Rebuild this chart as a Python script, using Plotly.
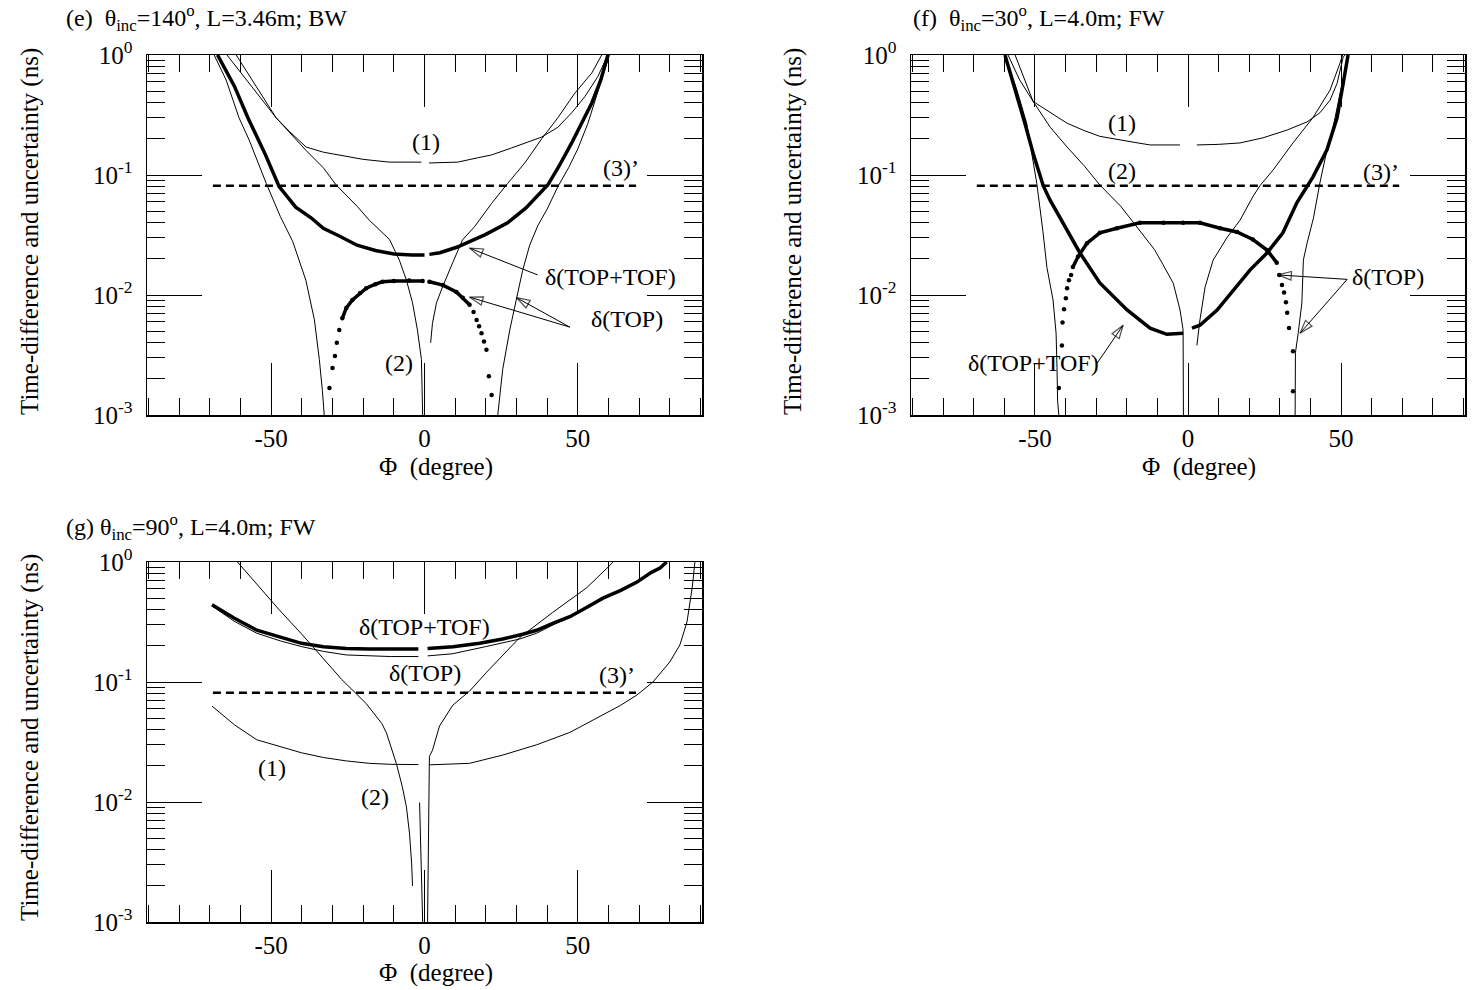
import numpy as np
import plotly.graph_objects as go

FONT = "Liberation Serif, Times New Roman, serif"

# ---------------- axis ticks ----------------
x_ticks = [-50, 0, 50]
x_ticklabels = ["-50", "0", "50"]
y_ticks = [0.001, 0.01, 0.1, 1.0]
y_ticklabels = ["10<sup>-3</sup>", "10<sup>-2</sup>", "10<sup>-1</sup>", "10<sup>0</sup>"]
y_minor = [m * 10.0 ** k for k in (-3, -2, -1) for m in range(2, 10)]

# ---------------- panel (e) ----------------
e_c1_x = [-64.4, -57.2, -52.0, -48.4, -44.0, -38.6, -33.0, -27.8, -20.0, -11.4, -1.0, None,
          1.5, 10.8, 17.3, 21.9, 28.4, 32.7, 38.2, 43.5, 48.0, 52.3, 56.5, 59.8]
e_c1_y = [1.0, 0.58, 0.40, 0.30, 0.23, 0.171, 0.155, 0.147, 0.135, 0.128, 0.128, None,
          0.126, 0.128, 0.139, 0.147, 0.168, 0.185, 0.207, 0.25, 0.33, 0.45, 0.66, 1.0]

e_c2l_x = [-61.4, -55.0, -48.4, -38.6, -33.0, -28.8, -22.0, -18.0, -11.4, -8.2, -5.9, -3.9, -2.3, -1.0, -0.6]
e_c2l_y = [1.0, 0.55, 0.30, 0.16, 0.115, 0.0825, 0.055, 0.042, 0.029, 0.0195, 0.0133, 0.0086, 0.0051, 0.0029, 0.001]
e_c2r_x = [2.0, 2.6, 3.9, 5.9, 9.2, 12.4, 16.3, 21.9, 27.1, 32.7, 38.2, 43.5, 49.0, 54.6, 57.8]
e_c2r_y = [0.004, 0.0058, 0.0086, 0.0117, 0.0186, 0.0288, 0.037, 0.058, 0.085, 0.126, 0.20, 0.30, 0.48, 0.71, 1.0]

e_topl_x = [-68.6, -64.7, -60.5, -57.2, -51.6, -47.0, -43.0, -38.7, -35.9, -34.3, -33.3, -32.7]
e_topl_y = [1.0, 0.62, 0.30, 0.196, 0.085, 0.045, 0.028, 0.0133, 0.0062, 0.0029, 0.0016, 0.001]
e_topr_x = [23.9, 24.5, 25.5, 27.8, 30.0, 32.0, 34.3, 37.0, 40.0, 43.5, 47.0, 50.0, 53.3, 56.5, 59.5, 60.3]
e_topr_y = [0.001, 0.0014, 0.0024, 0.0051, 0.0096, 0.016, 0.026, 0.038, 0.052, 0.08, 0.115, 0.165, 0.27, 0.5, 0.9, 1.0]

e_tt_x = [-67.5, -62.0, -57.6, -52.0, -47.4, -42.0, -37.0, -33.0, -27.8, -22.0, -16.0, -10.0, -4.0, 0.0, None,
          1.6, 5.0, 10.5, 15.0, 20.0, 27.1, 33.0, 40.2, 44.0, 48.0, 51.5, 54.6, 57.5, 59.8]
e_tt_y = [1.0, 0.55, 0.30, 0.15, 0.08, 0.054, 0.044, 0.036, 0.031, 0.026, 0.0235, 0.022, 0.0215, 0.0215, None,
          0.0218, 0.0225, 0.025, 0.028, 0.032, 0.040, 0.053, 0.0825, 0.12, 0.185, 0.28, 0.40, 0.62, 1.0]

e_hump_x = [-31.0, -30.0, -29.2, -28.6, -27.8, -26.8, -25.5, -23.5, -21.0, -19.0, -16.0, -13.7, -10.0, -5.0, -0.6, None,
            1.6, 6.0, 10.4, 12.5, 14.7, 16.0, 17.0, 17.8, 18.6, 19.4, 20.2, 21.0, 21.9]
e_hump_y = [0.00168, 0.00246, 0.0031, 0.004, 0.0051, 0.0064, 0.0078, 0.0091, 0.0104, 0.0114, 0.0123, 0.0129, 0.0131, 0.0132, 0.0131, None,
            0.0129, 0.0121, 0.0106, 0.0095, 0.0083, 0.0072, 0.0062, 0.0055, 0.0048, 0.0041, 0.0035, 0.0021, 0.00147]
e_hump_core = (5, 21)

# annotation arrows (tail x, tail y, head x, head y)
e_arrows = [(36.9, 0.0147, 14.7, 0.0246), (47.4, 0.0054, 14.7, 0.0096), (47.4, 0.0054, 30.0, 0.0095)]

# ---------------- panel (f) ----------------
f_c1_x = [-58.8, -55.0, -50.6, -45.0, -39.5, -34.0, -28.8, -18.0, -12.4, -2.6, None,
          2.9, 10.0, 17.0, 24.5, 32.4, 38.9, 43.1, 46.4, 48.7, 50.7, 51.3]
f_c1_y = [1.0, 0.62, 0.41, 0.33, 0.27, 0.235, 0.21, 0.188, 0.178, 0.178, None,
          0.178, 0.18, 0.185, 0.204, 0.237, 0.277, 0.33, 0.42, 0.58, 0.96, 1.0]

f_c2l_x = [-56.5, -50.6, -45.0, -39.5, -34.0, -28.8, -22.0, -15.6, -11.0, -8.2, -4.8, -2.6, -1.6, -1.5]
f_c2l_y = [1.0, 0.41, 0.25, 0.171, 0.12, 0.0825, 0.055, 0.034, 0.024, 0.018, 0.0125, 0.0075, 0.0051, 0.001]
f_c2r_x = [2.9, 3.9, 5.6, 8.2, 12.7, 17.0, 21.2, 23.5, 27.8, 34.3, 40.8, 46.4, 49.7, 50.5]
f_c2r_y = [0.0038, 0.0062, 0.0117, 0.0195, 0.030, 0.042, 0.066, 0.0815, 0.11, 0.185, 0.30, 0.51, 0.86, 1.0]

f_topl_x = [-59.8, -56.0, -52.7, -50.5, -49.4, -47.4, -46.1, -44.1, -43.1, -42.8, -42.6, -42.2]
f_topl_y = [1.0, 0.52, 0.27, 0.13, 0.085, 0.034, 0.017, 0.0091, 0.0048, 0.0025, 0.0013, 0.001]
f_topr_x = [35.0, 35.1, 36.0, 37.2, 37.7, 38.9, 41.0, 43.1, 45.4, 47.4, 49.7, 51.9, 52.5]
f_topr_y = [0.001, 0.0033, 0.0048, 0.0086, 0.0196, 0.027, 0.044, 0.086, 0.162, 0.25, 0.48, 0.86, 1.0]

f_tt_x = [-59.8, -56.5, -53.3, -50.6, -47.3, -45.1, -39.5, -35.3, -28.8, -19.9, -12.4, -6.9, -1.6, None,
          1.3, 3.9, 9.5, 14.7, 20.3, 25.8, 31.0, 35.6, 40.8, 45.4, 48.7, 50.7, 52.0, 52.3]
f_tt_y = [1.0, 0.52, 0.27, 0.152, 0.0815, 0.062, 0.035, 0.0224, 0.0126, 0.0075, 0.0053, 0.0047, 0.0048, None,
          0.0053, 0.0056, 0.0075, 0.011, 0.0162, 0.0224, 0.033, 0.059, 0.096, 0.162, 0.30, 0.58, 0.9, 1.0]

f_hump_x = [-42.2, -41.2, -41.0, -40.5, -39.9, -39.5, -38.9, -38.2, -37.6, -35.9, -33.0, -28.8, -23.2, -15.7, -8.0, -1.6,
            3.9, 10.5, 16.0, 21.2, 25.8, 29.0, 29.8, 30.7, 31.4, 32.0, 32.4, 33.0, 34.3, 34.3]
f_hump_y = [0.00168, 0.0038, 0.0059, 0.0076, 0.0094, 0.0114, 0.0133, 0.0147, 0.0171, 0.0209, 0.027, 0.033, 0.036, 0.040, 0.040, 0.040,
            0.040, 0.036, 0.0335, 0.029, 0.0237, 0.0186, 0.0147, 0.0121, 0.0105, 0.0087, 0.0071, 0.0053, 0.0034, 0.00158]
f_hump_core = (8, 22)

f_arrows = [(52.0, 0.0135, 29.4, 0.0147), (52.0, 0.0135, 36.6, 0.0048), (-29.7, 0.0027, -21.2, 0.0056)]

# ---------------- panel (g) ----------------
g_tt_x = [-69.3, -62.0, -54.7, -47.0, -40.1, -33.0, -25.5, -18.0, -11.0, -2.0, None,
          1.0, 9.3, 18.0, 25.5, 32.0, 36.6, 42.0, 47.4, 53.0, 58.2, 64.0, 69.3, 74.0, 76.8, 79.0]
g_tt_y = [0.44, 0.34, 0.27, 0.235, 0.21, 0.197, 0.19, 0.188, 0.188, 0.188, None,
          0.19, 0.197, 0.21, 0.228, 0.25, 0.27, 0.31, 0.35, 0.42, 0.50, 0.58, 0.68, 0.82, 0.89, 1.0]

g_top_x = [-69.3, -62.0, -54.7, -47.0, -40.0, -33.0, -25.5, -18.0, -11.0, -2.0, None,
           1.0, 9.2, 20.3, 31.0, 36.6, 42.0, 47.4, 53.0, 58.2, 64.0, 69.3, 74.0, 76.8, 79.0]
g_top_y = [0.43, 0.32, 0.255, 0.22, 0.197, 0.18, 0.168, 0.165, 0.163, 0.163, None,
           0.165, 0.172, 0.198, 0.228, 0.255, 0.30, 0.345, 0.415, 0.495, 0.575, 0.675, 0.81, 0.88, 1.0]

g_c1_x = [-69.3, -62.0, -54.7, -47.0, -40.1, -33.0, -25.5, -18.0, -11.0, -2.0, None,
          1.6, 14.7, 25.5, 36.6, 47.4, 58.2, 64.0, 69.3, 74.5, 80.0, 83.3, 85.6, 87.3, 88.2]
g_c1_y = [0.063, 0.044, 0.033, 0.029, 0.0257, 0.0235, 0.022, 0.021, 0.0206, 0.0205, None,
          0.0204, 0.021, 0.0246, 0.030, 0.038, 0.053, 0.064, 0.078, 0.1, 0.147, 0.204, 0.316, 0.61, 1.0]

g_c2l_x = [-61.0, -54.0, -47.4, -40.0, -32.8, -27.0, -22.6, -19.0, -13.9, -12.4, -9.2, -7.2, -5.9, -4.9, -4.2, -3.9]
g_c2l_y = [1.0, 0.62, 0.40, 0.25, 0.153, 0.105, 0.0815, 0.066, 0.045, 0.0376, 0.021, 0.0133, 0.0091, 0.0055, 0.0031, 0.0020]
g_c2m_x = [-1.6, -0.6]
g_c2m_y = [0.0099, 0.001]
g_c2r_x = [1.0, 1.6, 2.6, 4.9, 9.2, 14.7, 20.3, 31.0, 41.8, 52.9, 60.5, 61.5]
g_c2r_y = [0.001, 0.024, 0.027, 0.043, 0.064, 0.084, 0.121, 0.234, 0.38, 0.61, 0.94, 1.0]

# dashed line (3)'
dash_x = [-69.0, 69.0]
dash_y = [0.0815, 0.0815]

fig = go.Figure()


def line(x, y, ax, width=1.0, dash=None):
    fig.add_trace(go.Scatter(x=x, y=y, xaxis="x" + ax, yaxis="y" + ax, mode="lines",
                             line=dict(color="black", width=width, dash=dash),
                             showlegend=False, hoverinfo="skip", connectgaps=False))


def dots(x, y, ax, size=4.5):
    fig.add_trace(go.Scatter(x=x, y=y, xaxis="x" + ax, yaxis="y" + ax, mode="markers",
                             marker=dict(color="black", size=size),
                             showlegend=False, hoverinfo="skip"))


def arrows(lst, ax):
    for (x0, y0, x1, y1) in lst:
        fig.add_trace(go.Scatter(x=[x0, x1], y=[y0, y1], xaxis="x" + ax, yaxis="y" + ax,
                                 mode="lines+markers",
                                 line=dict(color="black", width=1),
                                 marker=dict(symbol="arrow-open", size=[0, 14], angleref="previous",
                                             color="black", line=dict(color="black", width=1.2)),
                                 showlegend=False, hoverinfo="skip"))


# (e)
line(e_c1_x, e_c1_y, "")
line(e_c2l_x, e_c2l_y, "")
line(e_c2r_x, e_c2r_y, "")
line(e_topl_x, e_topl_y, "")
line(e_topr_x, e_topr_y, "")
line(e_tt_x, e_tt_y, "", width=3.5)
line(dash_x, dash_y, "", width=2.5, dash="8px,5px")
dots(e_hump_x, e_hump_y, "")
line(e_hump_x[e_hump_core[0]:e_hump_core[1]], e_hump_y[e_hump_core[0]:e_hump_core[1]], "", width=3.5)
arrows(e_arrows, "")

# (f)
line(f_c1_x, f_c1_y, "2")
line(f_c2l_x, f_c2l_y, "2")
line(f_c2r_x, f_c2r_y, "2")
line(f_topl_x, f_topl_y, "2")
line(f_topr_x, f_topr_y, "2")
line(f_tt_x, f_tt_y, "2", width=3.5)
line(dash_x, dash_y, "2", width=2.5, dash="8px,5px")
dots(f_hump_x, f_hump_y, "2")
line(f_hump_x[f_hump_core[0]:f_hump_core[1]], f_hump_y[f_hump_core[0]:f_hump_core[1]], "2", width=3.5)
arrows(f_arrows, "2")

# (g)
line(g_tt_x, g_tt_y, "3", width=3.5)
line(g_top_x, g_top_y, "3")
line(g_c1_x, g_c1_y, "3")
line(g_c2l_x, g_c2l_y, "3")
line(g_c2m_x, g_c2m_y, "3")
line(g_c2r_x, g_c2r_y, "3")
line(dash_x, dash_y, "3", width=2.5, dash="8px,5px")

W, H = 1474, 990
TICKFONT = dict(family=FONT, size=25, color="black")


def xax(domain, anchor):
    return dict(domain=domain, anchor=anchor, range=[-90.5, 90.5],
                tickmode="array", tickvals=x_ticks, ticktext=x_ticklabels,
                ticks="inside", ticklen=52, tickwidth=1, tickcolor="black",
                minor=dict(tickmode="linear", tick0=0, dtick=10, ticks="inside",
                           ticklen=17, tickwidth=1, tickcolor="black", showgrid=False),
                showline=True, linecolor="black", linewidth=1.5, mirror="allticks",
                showgrid=False, zeroline=False, ticklabelstandoff=0,
                tickfont=TICKFONT)


def yax(domain, anchor):
    return dict(domain=domain, anchor=anchor, type="log", range=[-3, 0],
                tickmode="array", tickvals=y_ticks, ticktext=y_ticklabels,
                ticks="inside", ticklen=55, tickwidth=1, tickcolor="black",
                minor=dict(tickmode="array", tickvals=y_minor, ticks="inside",
                           ticklen=18, tickwidth=1, tickcolor="black", showgrid=False),
                showline=True, linecolor="black", linewidth=1.5, mirror="allticks",
                showgrid=False, zeroline=False, ticklabelstandoff=8,
                tickfont=TICKFONT)


dx_left = [147 / W, 702 / W]
dx_right = [911 / W, 1465 / W]
dy_top = [1 - 415 / H, 1 - 55 / H]
dy_bot = [1 - 922 / H, 1 - 562 / H]

fig.update_layout(
    width=W, height=H, margin=dict(l=0, r=0, t=0, b=0, pad=0, autoexpand=False),
    paper_bgcolor="white", plot_bgcolor="white", showlegend=False,
    font=dict(family=FONT, size=24, color="black"),
    xaxis=xax(dx_left, "y"), yaxis=yax(dy_top, "x"),
    xaxis2=xax(dx_right, "y2"), yaxis2=yax(dy_top, "x2"),
    xaxis3=xax(dx_left, "y3"), yaxis3=yax(dy_bot, "x3"),
)

ann = []
LABFONT = dict(family=FONT, size=24, color="black")


def lab(text, x, y, ax, xanchor="center"):
    ann.append(dict(text=text, x=x, y=np.log10(y), xref="x" + ax, yref="y" + ax,
                    showarrow=False, xanchor=xanchor, yanchor="middle", font=LABFONT))


def ptext(text, px, py, xanchor="left", angle=0, size=24):
    ann.append(dict(text=text, x=px / W, y=1 - py / H, xref="paper", yref="paper",
                    showarrow=False, xanchor=xanchor, yanchor="middle", textangle=angle,
                    font=dict(family=FONT, size=size, color="black")))


# (e) labels
lab("(1)", 0.5, 0.19, "")
lab("(2)", -8.2, 0.0027, "")
lab("(3)’", 64.0, 0.115, "")
lab("δ(TOP+TOF)", 60.5, 0.0141, "")
lab("δ(TOP)", 66.0, 0.0063, "")

# (f) labels
lab("(1)", -21.5, 0.272, "2")
lab("(2)", -21.5, 0.108, "2")
lab("(3)’", 63.0, 0.105, "2")
lab("δ(TOP)", 65.4, 0.0141, "2")
lab("δ(TOP+TOF)", -50.6, 0.0027, "2")

# (g) labels
lab("δ(TOP+TOF)", 0.0, 0.29, "3")
lab("δ(TOP)", 0.0, 0.119, "3")
lab("(3)’", 62.8, 0.115, "3")
lab("(1)", -49.6, 0.0193, "3")
lab("(2)", -16.0, 0.011, "3")

# panel titles
ptext("(e)  θ<sub>inc</sub>=140<sup>o</sup>, L=3.46m; BW", 64, 18)
ptext("(f)  θ<sub>inc</sub>=30<sup>o</sup>, L=4.0m; FW", 911, 18)
ptext("(g) θ<sub>inc</sub>=90<sup>o</sup>, L=4.0m; FW", 64, 527)

# axis titles
YT = "Time-difference and uncertainty (ns)"
ptext(YT, 30, 232, xanchor="center", angle=-90, size=25)
ptext(YT, 793, 232, xanchor="center", angle=-90, size=25)
ptext(YT, 30, 738, xanchor="center", angle=-90, size=25)
ptext("Φ  (degree)", 436, 467, xanchor="center", size=25)
ptext("Φ  (degree)", 1199, 467, xanchor="center", size=25)
ptext("Φ  (degree)", 436, 973, xanchor="center", size=25)

fig.update_layout(annotations=ann)
fig.write_html("out.html", config={"displayModeBar": False, "staticPlot": True},
               post_script="document.body.style.margin='0';document.body.style.overflow='hidden';")
